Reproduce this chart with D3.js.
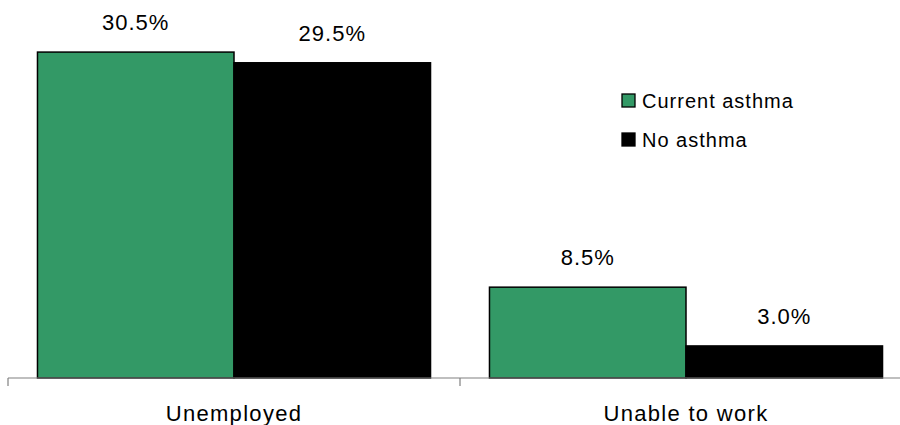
<!DOCTYPE html>
<html>
<head>
<meta charset="utf-8">
<script src="https://cdn.jsdelivr.net/npm/d3@7"></script>
<style>
  html, body { margin: 0; padding: 0; background: #fff; }
  svg { display: block; font-family: "Liberation Sans", Arial, sans-serif; }
</style>
</head>
<body>
<svg id="chart" width="900" height="425"></svg>
<script>
// Employment status by asthma status (percent)
const categories = ["Unemployed", "Unable to work"];
const seriesNames = ["Current asthma", "No asthma"];
const currentAsthma = [30.5, 8.5];
const noAsthma = [29.5, 3.0];
const seriesColors = ["#339966", "#000000"];

const svg = d3.select("#chart");

const baseY = 378;
const x0 = d3.scaleBand().domain(categories).range([8, 912]).paddingInner(0).paddingOuter(0);
const x1 = d3.scaleBand().domain(seriesNames).range([0, x0.bandwidth()]).paddingOuter(0.15).paddingInner(0);
const y = d3.scaleLinear().domain([0, 35]).range([baseY, 4]);

const rows = categories.map((c, i) => ({
  category: c,
  values: [
    { series: seriesNames[0], value: currentAsthma[i], color: seriesColors[0] },
    { series: seriesNames[1], value: noAsthma[i], color: seriesColors[1] }
  ]
}));

const groups = svg.selectAll("g.cat").data(rows).join("g")
  .attr("class", "cat")
  .attr("transform", d => `translate(${x0(d.category)},0)`);

groups.selectAll("rect").data(d => d.values).join("rect")
  .attr("x", d => x1(d.series))
  .attr("y", d => y(d.value))
  .attr("width", x1.bandwidth())
  .attr("height", d => baseY - y(d.value))
  .attr("fill", d => d.color)
  .attr("stroke", "#000")
  .attr("stroke-width", 1.5);

groups.selectAll("text.val").data(d => d.values).join("text")
  .attr("class", "val")
  .attr("x", d => x1(d.series) + x1.bandwidth() / 2)
  .attr("y", d => y(d.value) - 22)
  .attr("text-anchor", "middle")
  .attr("font-size", 22)
  .attr("letter-spacing", 1)
  .attr("fill", "#000")
  .text(d => d.value.toFixed(1) + "%");

// Category axis
const axis = svg.append("g").attr("transform", `translate(0,${baseY})`)
  .call(d3.axisBottom(x0).tickSize(0).tickFormat(""));
axis.select(".domain").attr("stroke", "#808080").attr("stroke-width", 1.2)
  .attr("d", `M${x0.range()[0]},0H${x0.range()[1]}`);

// Boundary ticks between categories
const tickXs = categories.map(c => x0(c)).concat([x0.range()[1]]);
svg.append("g").selectAll("line").data(tickXs).join("line")
  .attr("x1", d => d).attr("x2", d => d)
  .attr("y1", baseY).attr("y2", baseY + 8)
  .attr("stroke", "#808080").attr("stroke-width", 1.2);

svg.append("g").selectAll("text").data(categories).join("text")
  .attr("x", d => x0(d) + x0.bandwidth() / 2)
  .attr("y", 421)
  .attr("text-anchor", "middle")
  .attr("font-size", 22)
  .attr("letter-spacing", 1.3)
  .attr("fill", "#000")
  .text(d => d);

// Legend
const legend = svg.append("g").attr("transform", "translate(622,94)");
const li = legend.selectAll("g").data(seriesNames).join("g")
  .attr("transform", (d, i) => `translate(0,${i * 39})`);
li.append("rect")
  .attr("x", 0).attr("y", 0).attr("width", 13).attr("height", 13)
  .attr("fill", (d, i) => seriesColors[i])
  .attr("stroke", "#000").attr("stroke-width", 1.3);
li.append("text")
  .attr("x", 20).attr("y", 14)
  .attr("font-size", 20)
  .attr("letter-spacing", 1)
  .attr("fill", "#000")
  .text(d => d);
</script>
</body>
</html>
